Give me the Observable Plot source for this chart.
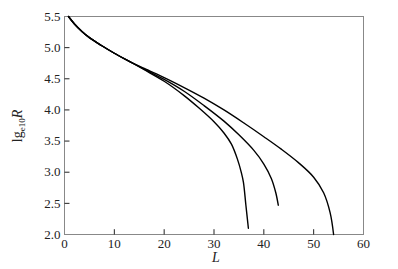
<!DOCTYPE html>
<html><head><meta charset="utf-8">
<script src="https://cdn.jsdelivr.net/npm/d3@7"></script>
<script src="https://cdn.jsdelivr.net/npm/@observablehq/plot@0.6"></script>
<style>body{margin:0;background:#fff}</style>
</head><body><div id="chart"></div>
<script>
const xTicks = [0,10,20,30,40,50,60];
const yTicks = [2.0,2.5,3.0,3.5,4.0,4.5,5.0,5.5];
const head = [[0.8,5.5],[2,5.38],[3.5,5.26],[5,5.16],[7.5,5.03],[10,4.91],[13,4.78]];
const seriesA = [[16,4.645],[20,4.46],[24,4.23],[27,4.03],[30,3.81],[32,3.63],[33.5,3.45],[34.7,3.21],[35.5,2.99],[35.9,2.84],[36.4,2.47],[36.9,2.1]];
const seriesB = [[16,4.655],[20,4.49],[24,4.3],[28,4.07],[32,3.82],[35,3.6],[38,3.35],[40,3.13],[41.5,2.9],[42.4,2.67],[42.9,2.47]];
const seriesC = [[16,4.665],[20,4.52],[24,4.36],[28,4.19],[32,4.0],[36,3.79],[40,3.57],[43.5,3.37],[47,3.15],[50,2.92],[52,2.67],[53.3,2.35],[54,2.0]];
const rows = [];
[["A",seriesA],["B",seriesB],["C",seriesC]].forEach(([k,s])=>{
  head.concat(s).forEach(([x,y])=>rows.push({k,x,y}));
});
const tickRowsX = xTicks.slice(1, -1).map(v => ({v}));
const tickRowsY = yTicks.slice(1, -1).map(v => ({v}));
const font = "Liberation Serif, Times New Roman, serif";
const plot = Plot.plot({
  width: 398, height: 269,
  marginLeft: 64, marginRight: 35, marginTop: 16, marginBottom: 35,
  style: {fontFamily: font, fontSize: "13px", color: "#222", background: "#fff"},
  x: {domain: [0,60]},
  y: {domain: [2,5.5]},
  marks: [
    Plot.frame({stroke: "#888"}),
    Plot.axisX({ticks: xTicks, tickSize: 0, tickPadding: 4, tickFormat: d=>String(d), label: null, fontSize: 13}),
    Plot.axisY({ticks: yTicks, tickSize: 0, tickPadding: 4, tickFormat: d=>d.toFixed(1), label: null, fontSize: 13}),
    Plot.link(tickRowsX, {x1: "v", x2: "v", y1: () => 2, y2: () => 2.085, stroke: "#222", strokeWidth: 1}),
    Plot.link(tickRowsY, {y1: "v", y2: "v", x1: () => 0, x2: () => 1.0, stroke: "#222", strokeWidth: 1}),
    Plot.line(rows, {x: "x", y: "y", z: "k", stroke: "#000", strokeWidth: 1.4, curve: "catmull-rom"})
  ]
});
const svg = d3.select(plot);
svg.append("text").attr("x", 216).attr("y", 262).attr("text-anchor","middle")
  .attr("font-style","italic").attr("font-size",14).attr("font-family",font).text("L");
const yl = svg.append("text").attr("transform","translate(22,126) rotate(-90)").attr("text-anchor","middle")
  .attr("font-size",14).attr("font-family",font);
yl.append("tspan").text("lg");
yl.append("tspan").attr("font-size",9).attr("dy",3).text("e10");
yl.append("tspan").attr("dy",-3).attr("font-style","italic").text("R");
document.getElementById("chart").appendChild(plot);
</script>
</body></html>
